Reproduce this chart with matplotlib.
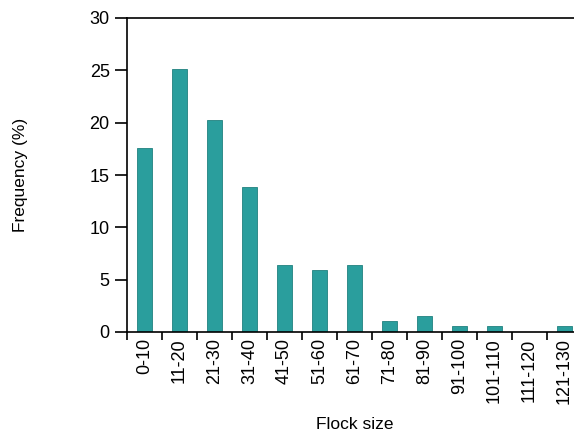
import matplotlib.pyplot as plt
import numpy as np

plt.rcParams['font.family'] = ['Liberation Sans', 'DejaVu Sans']

categories = ["0-10", "11-20", "21-30", "31-40", "41-50", "51-60", "61-70",
              "71-80", "81-90", "91-100", "101-110", "111-120", "121-130"]
frequency = [17.6, 25.1, 20.3, 13.9, 6.4, 5.9, 6.4, 1.05, 1.5, 0.55, 0.55, 0, 0.55]

W, H = 574, 432
fig = plt.figure(figsize=(W / 100, H / 100), dpi=100)
# axes runs past the right edge of the figure, as in the reference
left, right, top, bottom = 127, 582, 18, 332
ax = fig.add_axes([left / W, 1 - bottom / H, (right - left) / W, (bottom - top) / H])

x = np.arange(len(categories))
ax.bar(x, frequency, width=0.43, color='#2a9e9d', edgecolor='#21817f', linewidth=0.6)

ax.set_xlim(-0.5, len(categories) - 0.5)
ax.set_ylim(0, 30)
ax.set_yticks([0, 5, 10, 15, 20, 25, 30])

# labels at bar centres, ticks at the category boundaries
ax.set_xticks(x)
ax.set_xticklabels(categories, rotation=90, fontsize=13)
ax.tick_params(axis='x', which='major', length=0, pad=4.5)
ax.set_xticks(np.arange(len(categories)) - 0.5, minor=True)
ax.tick_params(axis='x', which='minor', length=6, width=1.2, direction='out')
ax.tick_params(axis='y', length=9, width=1.2, labelsize=13, pad=3.5)

for s in ['left', 'bottom', 'top']:
    ax.spines[s].set_linewidth(1.2)
ax.spines['right'].set_visible(False)

ax.set_ylabel("Frequency (%)", fontsize=12.5, labelpad=44)
ax.set_xlabel("Flock size", fontsize=12.5, labelpad=9.5)

fig.savefig("out.png", dpi=100)
